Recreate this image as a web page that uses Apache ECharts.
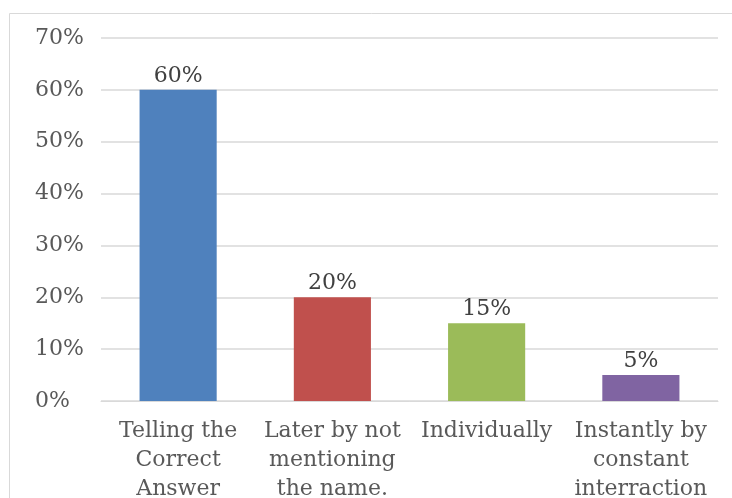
<!DOCTYPE html>
<html><head><meta charset="utf-8">
<script src="https://cdn.jsdelivr.net/npm/echarts@6/dist/echarts.min.js"></script>
<style>html,body{margin:0;padding:0;background:#fff}#c{width:732px;height:498px}</style>
</head><body><div id="c"></div>
<script>
const categories = ["Telling the\nCorrect\nAnswer", "Later by not\nmentioning\nthe name.", "Individually", "Instantly by\nconstant\ninterraction"];
const values = [60, 20, 15, 5];
const colors = ["#4f81bd", "#c0504d", "#9bbb59", "#8064a2"];
const yTicks = [0, 10, 20, 30, 40, 50, 60, 70];

const font = "DejaVu Serif";
const chart = echarts.init(document.getElementById('c'));
chart.setOption({
  animation: false,
  graphic: [{type:'rect', shape:{x:9.5, y:13.5, width:740, height:600}, style:{fill:'none', stroke:'#d9d9d9', lineWidth:1}, z:-1}],
  grid: {left: 101, right: 14, top: 38, bottom: 97, outerBoundsMode: 'none', containLabel: false},
  xAxis: {type:'category', data: categories,
    axisLine:{show:true, lineStyle:{color:'#d9d9d9'}}, axisTick:{show:false},
    axisLabel:{color:'#595959', fontFamily:font, fontSize:22, lineHeight:29, margin:16, interval:0}},
  yAxis: {type:'value', min:yTicks[0], max:yTicks[yTicks.length-1], interval:10,
    axisLine:{show:false}, axisTick:{show:false},
    splitLine:{lineStyle:{color:'#d9d9d9', width:1.5}},
    axisLabel:{color:'#595959', fontFamily:font, fontSize:22, margin:66, align:'left', formatter: v => v + '%'}},
  series: [{type:'bar', barWidth:'50%',
    data: values.map((v,i)=>({value:v, itemStyle:{color:colors[i]}})),
    label:{show:true, position:'top', distance:3, color:'#404040', fontFamily:font, fontSize:22, formatter: p => p.value + '%'}}]
});
</script></body></html>
